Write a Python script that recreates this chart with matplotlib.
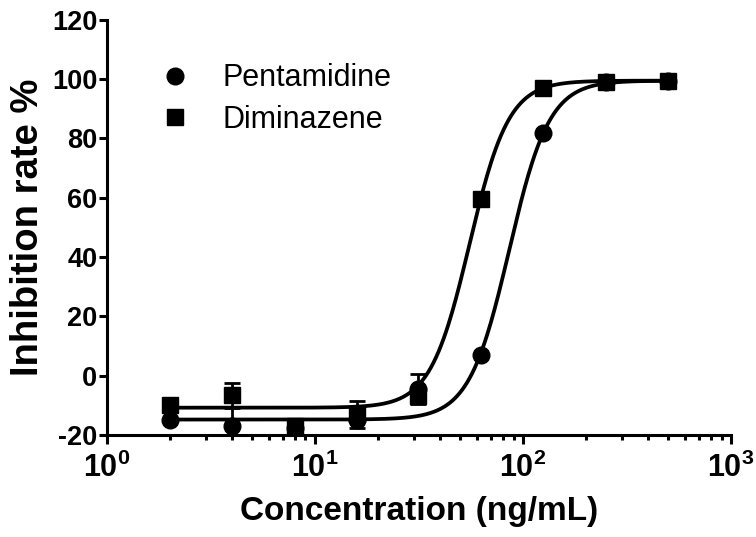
import numpy as np
import matplotlib
matplotlib.use("Agg")
import matplotlib.pyplot as plt
from matplotlib.ticker import LogLocator, FixedLocator

plt.rcParams['font.family'] = ['Liberation Sans', 'DejaVu Sans']
plt.rcParams['axes.unicode_minus'] = False
plt.rcParams['mathtext.fontset'] = 'custom'
plt.rcParams['mathtext.rm'] = 'Liberation Sans:bold'
plt.rcParams['mathtext.it'] = 'Liberation Sans:bold'
plt.rcParams['mathtext.bf'] = 'Liberation Sans:bold'
plt.rcParams['mathtext.default'] = 'bf'

# concentrations (ng/mL)
conc = [2, 4, 8, 16, 31.25, 62.5, 125, 250, 500]

# inhibition rate (%)
pentamidine = [-15, -17, -17.5, -15, -4.5, 7, 82, 99, 99.5]
pentamidine_err = [0, 6, 0, 0, 5, 0, 0, 0, 0]
diminazene = [-10, -6.5, -17, -13, -7, 59.5, 97, 99, 99.5]
diminazene_err = [0, 4, 0, 4.5, 2, 0, 0, 0, 0]

# fitted 4-parameter logistic curves: bottom, top, EC50, hill
pent_fit = (-14.8, 99.5, 85.8, 4.5)
dimi_fit = (-10.8, 99.5, 55.3, 4.6)


def logistic(x, bottom, top, ec50, hill):
    return bottom + (top - bottom) / (1 + (ec50 / x) ** hill)


fig = plt.figure(figsize=(7.56, 5.37), dpi=100)
ax = fig.add_axes([0.1415, 0.19, 0.8255, 0.773])

xs = np.logspace(np.log10(2), np.log10(500), 400)
ax.plot(xs, logistic(xs, *pent_fit), color='black', lw=2.7)
ax.plot(xs, logistic(xs, *dimi_fit), color='black', lw=2.7)

ax.errorbar(conc, pentamidine, yerr=pentamidine_err, fmt='none', ecolor='black',
            capsize=5.5, elinewidth=2, capthick=2)
ax.errorbar(conc, diminazene, yerr=diminazene_err, fmt='none', ecolor='black',
            capsize=5.5, elinewidth=2, capthick=2)
ax.plot(conc, pentamidine, 'o', color='black', ms=12, label='Pentamidine')
ax.plot(conc, diminazene, 's', color='black', ms=11.5, label='Diminazene')

ax.set_xscale('log')
ax.set_xlim(1, 1000)
ax.set_ylim(-20, 120)
ax.yaxis.set_major_locator(FixedLocator(range(-20, 121, 20)))
ax.xaxis.set_major_locator(LogLocator(base=10))
ax.xaxis.set_minor_locator(LogLocator(base=10, subs=np.arange(2, 10)))
ax.xaxis.set_minor_formatter(plt.NullFormatter())

for side in ['top', 'right']:
    ax.spines[side].set_visible(False)
for side in ['left', 'bottom']:
    ax.spines[side].set_linewidth(2.2)

ax.tick_params(axis='y', which='major', length=5.5, width=2.2,
               labelsize=19.5, pad=1.5)
ax.tick_params(axis='x', which='major', length=6.5, width=2.2,
               labelsize=22, pad=6)
ax.tick_params(axis='x', which='minor', length=3.5, width=2.2)
for lab in ax.get_xticklabels() + ax.get_yticklabels():
    lab.set_fontweight('bold')

ax.set_xlabel('Concentration (ng/mL)', fontsize=24, fontweight='bold', labelpad=9)
ax.set_ylabel('Inhibition rate %', fontsize=27.5, fontweight='bold', labelpad=4)

ax.legend(loc='upper left', bbox_to_anchor=(0.065, 0.925), frameon=False,
          fontsize=22, handletextpad=1.05, labelspacing=0.38, handlelength=1.0,
          borderaxespad=0)

fig.savefig('out.png', dpi=100)
